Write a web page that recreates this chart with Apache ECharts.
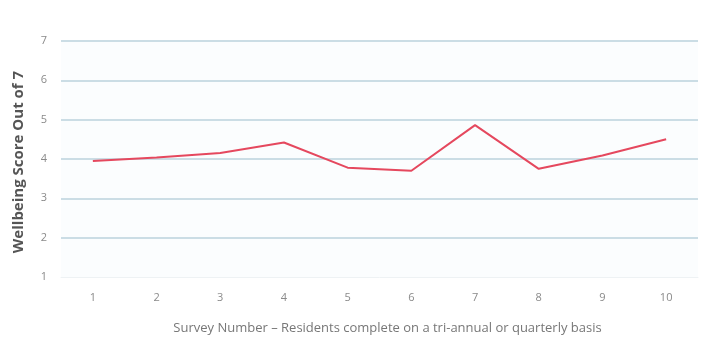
<!DOCTYPE html>
<html>
<head>
<meta charset="utf-8">
<script src="https://cdn.jsdelivr.net/npm/echarts@6/dist/echarts.min.js"></script>
<style>html,body{margin:0;padding:0;background:#fff}#c{width:723px;height:340px}</style>
</head>
<body>
<div id="c"></div>
<script>
var categories = ['1','2','3','4','5','6','7','8','9','10'];
var scores = [3.95, 4.04, 4.15, 4.42, 3.78, 3.70, 4.86, 3.75, 4.09, 4.50];
var yTicks = [1, 2, 3, 4, 5, 6, 7];
var xTitle = 'Survey Number \u2013 Residents complete on a tri-annual or quarterly basis';
var yTitle = 'Wellbeing Score Out of 7';

var chart = echarts.init(document.getElementById('c'));
chart.setOption({
  animation: false,
  grid: { left: 61, right: 25, top: 41, bottom: 58, show: true, backgroundColor: '#fbfdfe', borderWidth: 0 },
  xAxis: {
    type: 'category',
    data: categories,
    boundaryGap: true,
    axisLine: { show: true, lineStyle: { color: '#eef2f4', width: 1 } },
    axisTick: { show: false },
    axisLabel: { color: '#8a8a8a', fontSize: 11, fontFamily: 'Open Sans', margin: 15 },
    name: xTitle,
    nameLocation: 'middle',
    nameGap: 45,
    nameTextStyle: { color: '#777', fontSize: 13, fontFamily: 'Open Sans', padding: [0, 0, 0, 16] }
  },
  yAxis: {
    type: 'value',
    min: yTicks[0],
    max: yTicks[yTicks.length - 1],
    interval: 1,
    axisLine: { show: false },
    axisTick: { show: false },
    axisLabel: { color: '#8a8a8a', fontSize: 11, fontFamily: 'Open Sans', margin: 14 },
    splitLine: { show: true, showMinLine: false, lineStyle: { color: '#cbdde5', width: 2 } },
    name: yTitle,
    nameLocation: 'middle',
    nameGap: 35,
    nameTextStyle: { color: '#555', fontSize: 15, fontWeight: 'bold', fontFamily: 'Open Sans', padding: [0, 6, 0, 0] }
  },
  series: [{
    type: 'line',
    data: scores,
    symbol: 'none',
    lineStyle: { color: '#e5485e', width: 2 }
  }]
});
</script>
</body>
</html>
